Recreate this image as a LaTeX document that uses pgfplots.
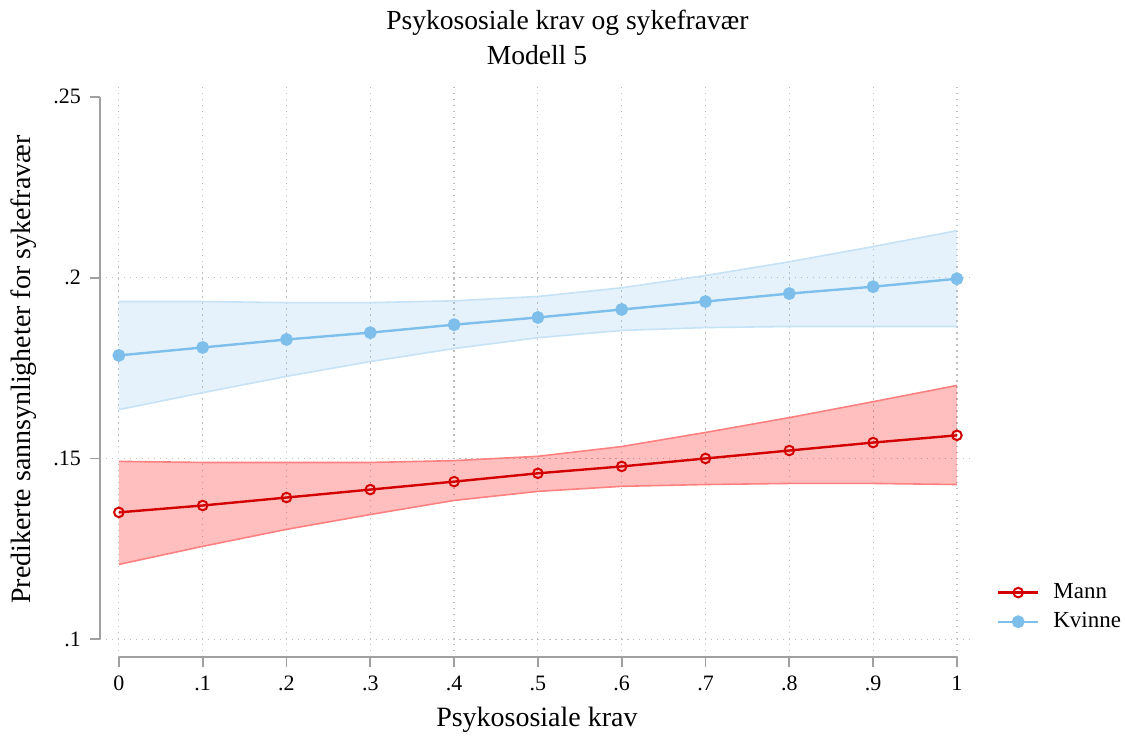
\documentclass[border=0pt]{standalone}
\usepackage{fontspec}
\setmainfont{Liberation Serif}
\usepackage{pgfplots}
\usepackage{pgfplotstable}
\pgfplotsset{compat=1.18}
\usepgfplotslibrary{fillbetween}

\definecolor{mannred}{RGB}{210,0,0}
\definecolor{mannfill}{RGB}{255,0,0}
\definecolor{mannedge}{RGB}{255,128,128}
\definecolor{kvblue}{RGB}{125,190,235}
\definecolor{kvedge}{RGB}{197,226,246}
\definecolor{axgray}{RGB}{160,160,160}
\definecolor{gridgray}{RGB}{190,190,190}

\pgfplotstableread{
x est lo hi
0.0 0.1351 0.1207 0.1492
0.1 0.1370 0.1257 0.1489
0.2 0.1392 0.1304 0.1489
0.3 0.1414 0.1345 0.1489
0.4 0.1436 0.1384 0.1494
0.5 0.1459 0.1409 0.1506
0.6 0.1478 0.1423 0.1533
0.7 0.1500 0.1428 0.1572
0.8 0.1522 0.1431 0.1613
0.9 0.1544 0.1431 0.1657
1.0 0.1564 0.1428 0.1702
}\mann

\pgfplotstableread{
x est lo hi
0.0 0.1785 0.1635 0.1934
0.1 0.1807 0.1682 0.1934
0.2 0.1829 0.1727 0.1931
0.3 0.1848 0.1768 0.1931
0.4 0.1870 0.1804 0.1936
0.5 0.1890 0.1834 0.1948
0.6 0.1912 0.1854 0.1972
0.7 0.1934 0.1862 0.2006
0.8 0.1956 0.1865 0.2044
0.9 0.1975 0.1865 0.2086
1.0 0.1997 0.1865 0.2130
}\kvinne

\begin{document}
\begin{tikzpicture}
\begin{axis}[
  name=ax,
  scale only axis,
  width=437.5pt, height=288pt,
  xmin=-0.02265, xmax=1.0203,
  ymin=0.09503, ymax=0.25414,
  clip=false,
  axis line style={draw=none},
  xtick={0,0.1,0.2,0.3,0.4,0.5,0.6,0.7,0.8,0.9,1},
  xticklabels={0,.1,.2,.3,.4,.5,.6,.7,.8,.9,1},
  ytick={0.1,0.15,0.2,0.25},
  yticklabels={.1,.15,.2,.25},
  xtick pos=bottom, ytick pos=left,
  tick align=outside,
  major tick length=5pt,
  tick style={axgray, line width=0.9pt},
  /pgf/number format/assume math mode=true,
  ticklabel style={font=\fontsize{11}{13}\selectfont},
  xticklabel style={yshift=-1pt},
  yticklabel style={xshift=-1pt},
  xmajorgrids=true,
  extra y ticks={0.1,0.15,0.2},
  extra y tick labels={},
  extra y tick style={grid=major, major tick length=0pt},
  grid style={gridgray, line width=0.6pt, dash pattern=on 0.6pt off 2.4pt},
  xlabel={Psykososiale krav},
  ylabel={Predikerte sannsynligheter for sykefravær},
  label style={font=\fontsize{14}{16}\selectfont},
  xlabel style={at={(axis description cs:0.5,-0.1198)}, anchor=base},
  ylabel style={at={(axis description cs:-0.0789,0.5)}, anchor=base},
  legend style={draw=none, fill=none, at={(rel axis cs:1.026,0.087)}, anchor=west,
    font=\fontsize{11.5}{13}\selectfont, row sep=1.5pt, column sep=5pt, inner sep=0pt},
  legend cell align=left,
  legend image code/.code={\draw[mark repeat=2,mark phase=2] plot coordinates {(0pt,0pt) (10pt,0pt) (20pt,0pt)};},
]
% Mann CI
\addplot[name path=mhi, mannedge, line width=0.8pt, forget plot] table[x=x,y=hi]{\mann};
\addplot[name path=mlo, mannedge, line width=0.8pt, forget plot] table[x=x,y=lo]{\mann};
\addplot[mannfill, fill opacity=0.25, draw=none, forget plot] fill between[of=mhi and mlo];
% Kvinne CI
\addplot[name path=khi, kvedge, line width=0.8pt, forget plot] table[x=x,y=hi]{\kvinne};
\addplot[name path=klo, kvedge, line width=0.8pt, forget plot] table[x=x,y=lo]{\kvinne};
\addplot[kvblue, fill opacity=0.2, draw=none, forget plot] fill between[of=khi and klo];
% lines
\addplot[mannred, line width=1.2pt, mark=o, mark size=2.4pt, mark options={line width=1pt, fill=white}] table[x=x,y=est]{\mann};
\addlegendentry{Mann}
\addplot[kvblue, line width=1.2pt, mark=*, mark size=2.6pt] table[x=x,y=est]{\kvinne};
\addlegendentry{Kvinne}
% axis lines (Stata style, detached)
\draw[axgray, line width=0.9pt] (axis cs:0,0.09503) -- (axis cs:1,0.09503);
\draw[axgray, line width=0.9pt] (axis cs:-0.02265,0.1) -- (axis cs:-0.02265,0.25);
% titles
\node[anchor=base, font=\fontsize{13.8}{16}\selectfont] at (rel axis cs:0.5349,1.0903) {Psykososiale krav og sykefravær};
\node[anchor=base, font=\fontsize{13.8}{16}\selectfont] at (rel axis cs:0.5,1.0295) {Modell 5};
\end{axis}
\path ([shift={(-50pt,-40pt)}]ax.south west) rectangle ++(562.5pt,369pt);
\end{tikzpicture}
\end{document}
